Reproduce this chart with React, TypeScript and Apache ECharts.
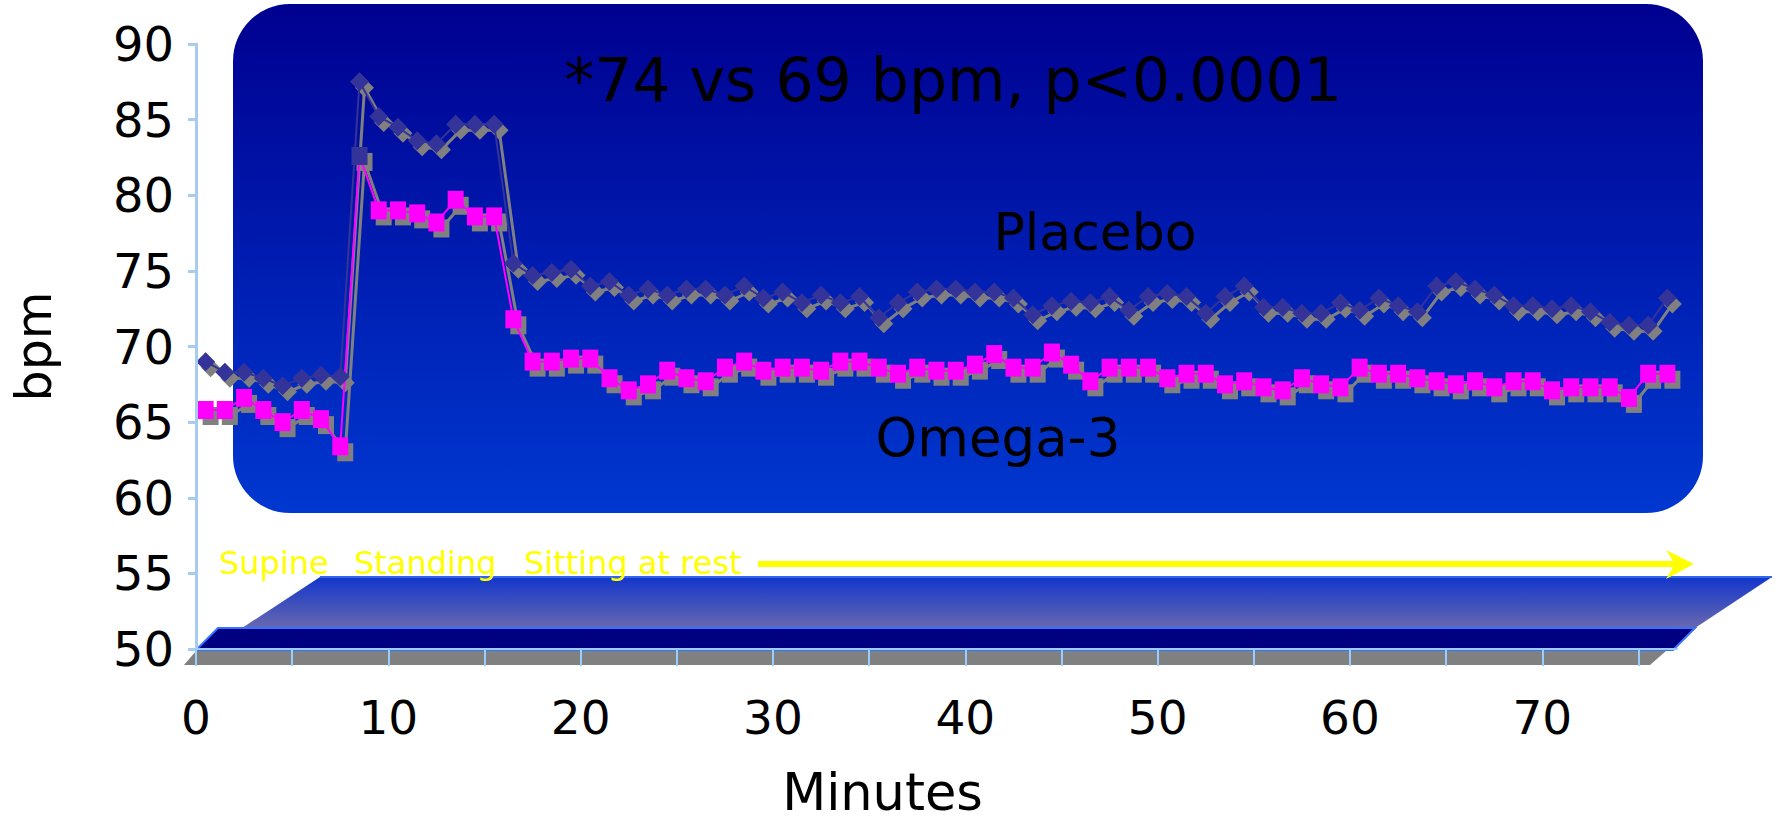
import React, { useEffect, useRef } from "react";
import * as echarts from "echarts";

// Heart rate (bpm), one sample per minute
const placebo = [
  69.0, 68.3, 68.3, 67.9, 67.4, 67.9, 68.1, 68.0, 87.5, 85.2,
  84.5, 83.6, 83.4, 84.7, 84.7, 84.7, 75.5, 74.7, 74.9, 75.1,
  74.0, 74.3, 73.4, 73.8, 73.4, 73.8, 73.8, 73.4, 74.0, 73.2,
  73.6, 72.9, 73.4, 72.9, 73.3, 71.9, 72.9, 73.6, 73.8, 73.8,
  73.6, 73.6, 73.2, 72.1, 72.7, 73.0, 72.9, 73.3, 72.4, 73.3,
  73.5, 73.3, 72.2, 73.3, 74.0, 72.6, 72.6, 72.2, 72.2, 72.9,
  72.4, 73.2, 72.7, 72.3, 74.0, 74.3, 73.8, 73.4, 72.7, 72.7,
  72.5, 72.7, 72.3, 71.6, 71.4, 71.4, 73.2,
];
const omega3 = [
  65.8, 65.8, 66.6, 65.8, 65.0, 65.8, 65.2, 63.4, 82.6, 79.0,
  79.0, 78.8, 78.2, 79.7, 78.6, 78.6, 71.8, 69.0, 69.0, 69.2,
  69.2, 67.9, 67.1, 67.5, 68.4, 67.9, 67.7, 68.6, 69.0, 68.4,
  68.6, 68.6, 68.4, 69.0, 69.0, 68.6, 68.2, 68.6, 68.4, 68.4,
  68.8, 69.5, 68.6, 68.6, 69.6, 68.8, 67.7, 68.6, 68.6, 68.6,
  67.9, 68.2, 68.2, 67.5, 67.7, 67.3, 67.1, 67.9, 67.5, 67.3,
  68.6, 68.2, 68.2, 67.9, 67.7, 67.5, 67.7, 67.3, 67.7, 67.7,
  67.1, 67.3, 67.3, 67.3, 66.6, 68.2, 68.2,
];
const oddMarkerIndex = 8;
const xTickValues = [0, 5, 10, 15, 20, 25, 30, 35, 40, 45, 50, 55, 60, 65, 70, 75];
const xLabelValues = [0, 10, 20, 30, 40, 50, 60, 70];
const phaseLabels = ["Supine", "Standing", "Sitting at rest"];
const titleText = "*74 vs 69 bpm, p<0.0001";
const seriesLabels = ["Placebo", "Omega-3"];

const FONT = "DejaVu Sans";

export default function App() {
  const ref = useRef<HTMLDivElement>(null);

  useEffect(() => {
    if (!ref.current) return;
    const chart = echarts.init(ref.current, null, { renderer: "svg" });

    const placeboData = placebo.map((v, i) => [i + 0.5, v]);
    const omegaData = omega3.map((v, i) =>
      i === oddMarkerIndex
        ? { value: [i + 0.5, v], itemStyle: { color: "#333399" } }
        : [i + 0.5, v]
    );
    const shadowPlacebo = placebo.map((v, i) => [i + 0.5, v]);
    const shadowOmega = omega3.map((v, i) => [i + 0.5, v]);

    const gridW = 1481;
    const gridH = 605;
    const gridL = 196;
    const gridT = 44;

    const lightBlue = "#99ccff";

    const option: any = {
      animation: false,
      textStyle: { fontFamily: FONT },
      grid: [
        {
          left: gridL,
          top: gridT,
          width: gridW,
          height: gridH,
          containLabel: false,
          outerBoundsMode: "none",
        },
        {
          left: gridL + 5,
          top: gridT + 6,
          width: gridW,
          height: gridH,
          containLabel: false,
          outerBoundsMode: "none",
        },
      ],
      xAxis: [
        {
          type: "value",
          gridIndex: 0,
          min: 0,
          max: 77,
          interval: 5,
          z: 5,
          name: "Minutes",
          nameLocation: "middle",
          nameGap: 121,
          nameTextStyle: {
            fontFamily: FONT,
            fontSize: 51,
            lineHeight: 44,
            color: "#000",
            padding: [0, 108, 0, 0],
          },
          axisLine: { show: true, lineStyle: { color: lightBlue, width: 2 } },
          axisTick: {
            show: true,
            length: 17,
            customValues: xTickValues,
            lineStyle: { color: lightBlue, width: 2 },
          },
          axisLabel: {
            customValues: xLabelValues,
            margin: 45,
            fontSize: 47,
            color: "#000",
            fontFamily: FONT,
          },
          splitLine: { show: false },
        },
        {
          type: "value",
          gridIndex: 1,
          min: 0,
          max: 77,
          interval: 5,
          show: false,
        },
      ],
      yAxis: [
        {
          type: "value",
          gridIndex: 0,
          min: 50,
          max: 90,
          interval: 5,
          offset: 3,
          z: 5,
          name: "bpm",
          nameLocation: "middle",
          nameGap: 134,
          nameTextStyle: { fontFamily: FONT, fontSize: 49, color: "#000" },
          axisLine: { show: true, lineStyle: { color: "#a8ccf0", width: 3 } },
          axisTick: { show: true, length: 8, lineStyle: { color: "#a8ccf0", width: 3 } },
          axisLabel: { margin: 19, fontSize: 48, color: "#000", fontFamily: FONT },
          splitLine: { show: false },
        },
        {
          type: "value",
          gridIndex: 1,
          min: 50,
          max: 90,
          interval: 5,
          show: false,
        },
      ],
      graphic: [
        {
          type: "rect",
          z: 0,
          shape: { x: 233, y: 4, width: 1470, height: 509, r: 57 },
          style: {
            fill: new echarts.graphic.LinearGradient(0, 0, 0, 1, [
              { offset: 0, color: "#000090" },
              { offset: 1, color: "#0038d0" },
            ]),
          },
          silent: true,
        },
        {
          type: "polygon",
          z: 0,
          shape: { points: [[320, 577], [1772, 577], [1695, 628], [242, 628]] },
          style: {
            fill: new echarts.graphic.LinearGradient(0, 0, 0, 1, [
              { offset: 0, color: "#1236cc" },
              { offset: 1, color: "#6868ae" },
            ]),
          },
          silent: true,
        },
        {
          type: "line",
          z: 0,
          shape: { x1: 320, y1: 577, x2: 1772, y2: 577 },
          style: { stroke: "#3366ee", lineWidth: 2 },
          silent: true,
        },
        {
          type: "polygon",
          z: 0,
          shape: { points: [[218, 628], [1695, 628], [1673, 650], [196, 650]] },
          style: { fill: "#000080", stroke: "#3a70ff", lineWidth: 2 },
          silent: true,
        },
        {
          type: "polygon",
          z: 0,
          shape: { points: [[196, 651], [1666, 651], [1650, 665], [184, 665]] },
          style: { fill: "#808080" },
          silent: true,
        },
        ...phaseLabels.map((t, i) => ({
          type: "text",
          z: 6,
          x: [219, 354, 524][i],
          y: 563,
          style: {
            text: t,
            fill: "#ffff00",
            fontSize: 32,
            fontFamily: FONT,
            verticalAlign: "middle",
          },
          silent: true,
        })),
        {
          type: "line",
          z: 6,
          shape: { x1: 758, y1: 564, x2: 1678, y2: 564 },
          style: { stroke: "#ffff00", lineWidth: 6 },
          silent: true,
        },
        {
          type: "polygon",
          z: 6,
          shape: { points: [[1694, 564], [1666, 550], [1675, 564], [1666, 579]] },
          style: { fill: "#ffff00" },
          silent: true,
        },
        {
          type: "text",
          z: 10,
          x: 953,
          y: 80,
          style: {
            text: titleText,
            fill: "#000",
            fontSize: 60,
            fontFamily: FONT,
            align: "center",
            verticalAlign: "middle",
          },
          silent: true,
        },
        {
          type: "text",
          z: 10,
          x: 1095,
          y: 232,
          style: {
            text: seriesLabels[0],
            fill: "#000",
            fontSize: 52,
            fontFamily: FONT,
            align: "center",
            verticalAlign: "middle",
          },
          silent: true,
        },
        {
          type: "text",
          z: 10,
          x: 998,
          y: 437,
          style: {
            text: seriesLabels[1],
            fill: "#000",
            fontSize: 53,
            fontFamily: FONT,
            align: "center",
            verticalAlign: "middle",
          },
          silent: true,
        },
      ],
      series: [
        {
          name: "Placebo shadow",
          type: "line",
          xAxisIndex: 1,
          yAxisIndex: 1,
          z: 2,
          data: shadowPlacebo,
          symbol: "diamond",
          symbolSize: 19,
          itemStyle: { color: "#808080" },
          lineStyle: { color: "#808080", width: 3 },
          silent: true,
        },
        {
          name: "Omega-3 shadow",
          type: "line",
          xAxisIndex: 1,
          yAxisIndex: 1,
          z: 2,
          data: shadowOmega,
          symbol: "rect",
          symbolSize: [16, 18],
          itemStyle: { color: "#808080" },
          lineStyle: { color: "#808080", width: 3 },
          silent: true,
        },
        {
          name: "Placebo",
          type: "line",
          z: 3,
          data: placeboData,
          symbol: "diamond",
          symbolSize: 19,
          itemStyle: { color: "#333399" },
          lineStyle: { color: "#333399", width: 2 },
        },
        {
          name: "Omega-3",
          type: "line",
          z: 3,
          data: omegaData,
          symbol: "rect",
          symbolSize: [16, 18],
          itemStyle: { color: "#ff00ff" },
          lineStyle: { color: "#ff00ff", width: 2 },
        },
      ],
    };

    chart.setOption(option);
    return () => chart.dispose();
  }, []);

  return (
    <div
      ref={ref}
      style={{ position: "absolute", left: 0, top: 0, width: 1779, height: 824 }}
    />
  );
}
